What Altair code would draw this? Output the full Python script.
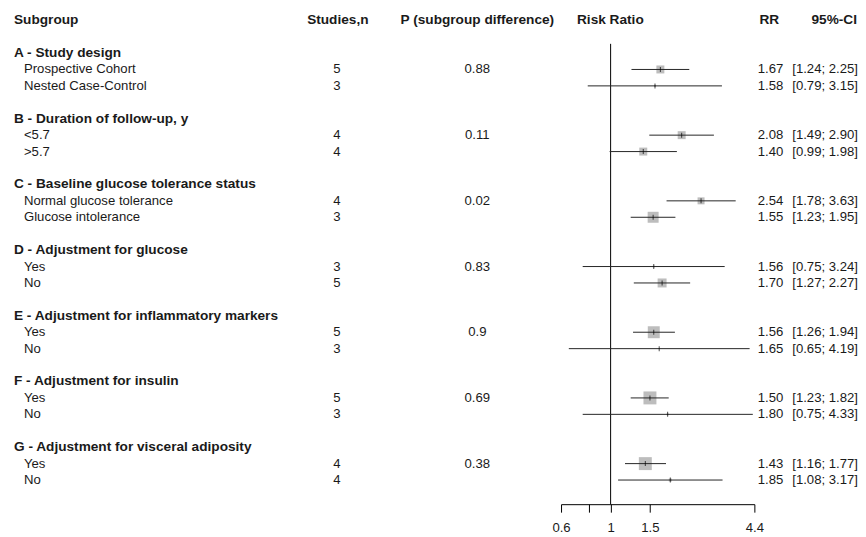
import altair as alt
import pandas as pd

# ---------------- data ----------------
groups = [
    "A - Study design",
    "B - Duration of follow-up, y",
    "C - Baseline glucose tolerance status",
    "D - Adjustment for glucose",
    "E - Adjustment for inflammatory markers",
    "F - Adjustment for insulin",
    "G - Adjustment for visceral adiposity",
]
p_values = ["0.88", "0.11", "0.02", "0.83", "0.9", "0.69", "0.38"]

subgroups = [
    "Prospective Cohort", "Nested Case-Control",
    "<5.7", ">5.7",
    "Normal glucose tolerance", "Glucose intolerance",
    "Yes", "No",
    "Yes", "No",
    "Yes", "No",
    "Yes", "No",
]
studies = [5, 3, 4, 4, 4, 3, 3, 5, 5, 3, 5, 3, 4, 4]
rr = [1.67, 1.58, 2.08, 1.40, 2.54, 1.55, 1.56, 1.70, 1.56, 1.65, 1.50, 1.80, 1.43, 1.85]
ci_lo = [1.24, 0.79, 1.49, 0.99, 1.78, 1.23, 0.75, 1.27, 1.26, 0.65, 1.23, 0.75, 1.16, 1.08]
ci_hi = [2.25, 3.15, 2.90, 1.98, 3.63, 1.95, 3.24, 2.27, 1.94, 4.19, 1.82, 4.33, 1.77, 3.17]
# relative study weight (drives square area)
weight = [64, 4, 64, 64, 49, 121, 4, 81, 144, 1, 169, 4, 169, 9]

axis_ticks = [0.6, 0.8, 1, 1.5, 4.4]

# ---------------- tables ----------------
items = pd.DataFrame({
    "label": subgroups,
    "studies": [str(s) for s in studies],
    "rr": rr,
    "lo": ci_lo,
    "hi": ci_hi,
    "weight": weight,
    "row": [3 + 4 * (i // 2) + (i % 2) for i in range(len(subgroups))],
})
items["rr_lbl"] = [f"{v:.2f}" for v in rr]
items["ci_lbl"] = [f"[{a:.2f}; {b:.2f}]" for a, b in zip(ci_lo, ci_hi)]

grp = pd.DataFrame({
    "label": groups,
    "p": p_values,
    "row": [2 + 4 * g for g in range(len(groups))],
    "prow": [3 + 4 * g for g in range(len(groups))],
})

FONT = "Liberation Sans, Arial, Helvetica, sans-serif"
FS = 13.2
FSB = 13.7
TXT = "#1a1a1a"

yscale = alt.Scale(domain=[-0.686, 29.47], reverse=True, nice=False, zero=False)
xscale = alt.Scale(type="log", domain=[0.6, 4.4], range=[555, 749], nice=False)
xaxis = alt.Axis(
    values=axis_ticks,
    labelExpr="datum.value == 0.8 ? '' : '' + datum.value",
    grid=False, title=None,
    domainColor="black", tickColor="black", tickSize=8, labelPadding=9,
    labelFont=FONT, labelFontSize=FS, labelColor=TXT, labelFlush=False,
)

base_items = alt.Chart(items)
base_grp = alt.Chart(grp)


def ytext(field):
    return alt.Y(f"{field}:Q", scale=yscale, axis=None)


def header(text, x, align):
    return alt.Chart(pd.DataFrame({"t": [text], "row": [0]})).mark_text(
        font=FONT, fontSize=FSB, fontWeight="bold", align=align, baseline="middle", color=TXT
    ).encode(x=alt.value(x), y=ytext("row"), text="t:N")


headers = [
    header("Subgroup", 6, "left"),
    header("Studies,n", 331, "center"),
    header("P (subgroup difference)", 471, "center"),
    header("Risk Ratio", 604.5, "center"),
    header("RR", 764, "center"),
    header("95%-CI", 852, "right"),
]

group_text = base_grp.mark_text(
    font=FONT, fontSize=FSB, fontWeight="bold", align="left", baseline="middle", color=TXT
).encode(x=alt.value(6), y=ytext("row"), text="label:N")

p_text = base_grp.mark_text(
    font=FONT, fontSize=FS, align="center", baseline="middle", color=TXT
).encode(x=alt.value(471), y=ytext("prow"), text="p:N")

item_text = base_items.mark_text(
    font=FONT, fontSize=FS, align="left", baseline="middle", color=TXT
).encode(x=alt.value(16), y=ytext("row"), text="label:N")

studies_text = base_items.mark_text(
    font=FONT, fontSize=FS, align="center", baseline="middle", color=TXT
).encode(x=alt.value(330), y=ytext("row"), text="studies:N")

rr_text = base_items.mark_text(
    font=FONT, fontSize=FS, align="right", baseline="middle", color=TXT
).encode(x=alt.value(778), y=ytext("row"), text="rr_lbl:N")

ci_text = base_items.mark_text(
    font=FONT, fontSize=FS, align="right", baseline="middle", color=TXT
).encode(x=alt.value(853), y=ytext("row"), text="ci_lbl:N")

# reference line at RR = 1 spanning the rows
ref_line = alt.Chart(pd.DataFrame({"v": [1], "y0": [1.44], "y1": [29.47]})).mark_rule(
    color="black", strokeWidth=1
).encode(
    x=alt.X("v:Q", scale=xscale, axis=xaxis),
    y=alt.Y("y0:Q", scale=yscale, axis=None),
    y2="y1:Q",
)

squares = base_items.mark_square(color="#bdbdbd", opacity=1).encode(
    x=alt.X("rr:Q", scale=xscale, axis=xaxis),
    y=alt.Y("row:Q", scale=yscale, axis=None),
    size=alt.Size("weight:Q", scale=None, legend=None),
)

ci_lines = base_items.mark_rule(color="#262626", strokeWidth=1).encode(
    x=alt.X("lo:Q", scale=xscale, axis=xaxis),
    x2="hi:Q",
    y=alt.Y("row:Q", scale=yscale, axis=None),
)

est_ticks = base_items.mark_tick(orient="vertical", size=5, thickness=1, color="black").encode(
    x=alt.X("rr:Q", scale=xscale, axis=xaxis),
    y=alt.Y("row:Q", scale=yscale, axis=None),
)

chart = alt.layer(
    ref_line, squares, ci_lines, est_ticks,
    *headers, group_text, p_text, item_text, studies_text, rr_text, ci_text,
).properties(
    width=850, height=497, padding=0, background="white",
).configure_view(stroke="transparent", strokeWidth=0)

chart.save("out.html", embed_options={"renderer": "svg", "actions": False})
